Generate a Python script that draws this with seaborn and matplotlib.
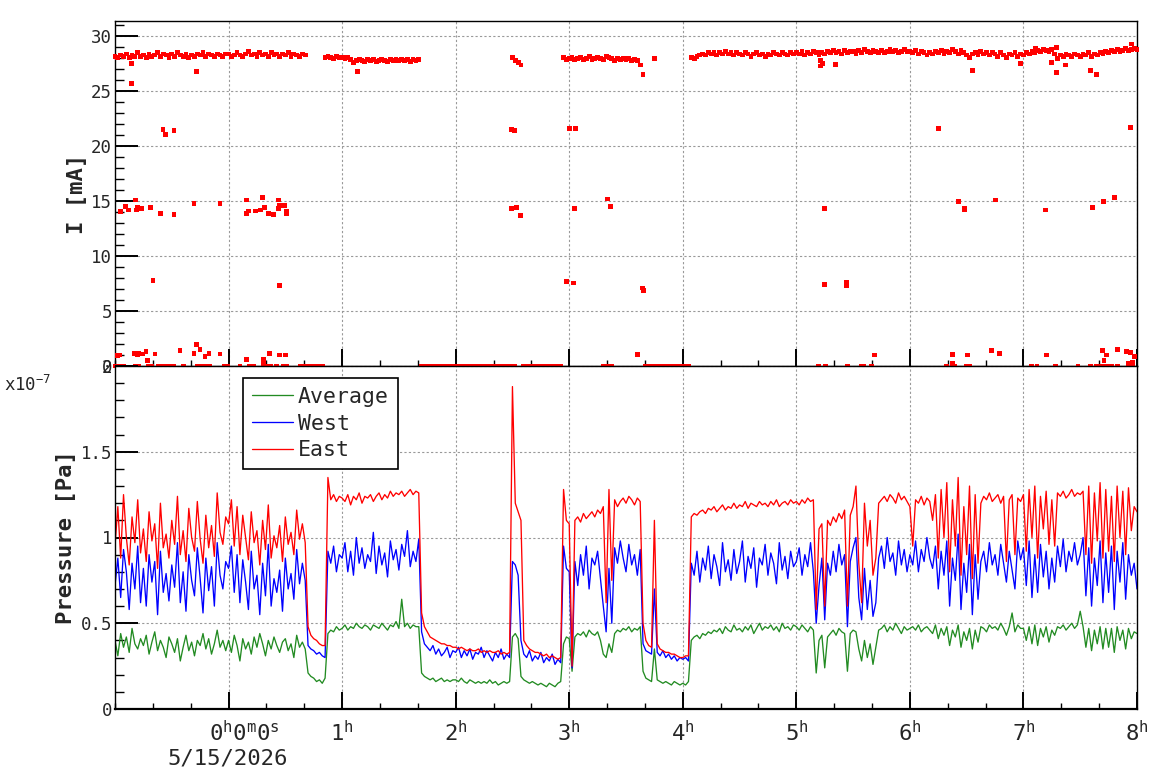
import numpy as np
import pandas as pd
import matplotlib
matplotlib.use('Agg')
import matplotlib.pyplot as plt
from matplotlib.ticker import MultipleLocator, FixedLocator, FuncFormatter
from matplotlib.transforms import ScaledTranslation
import seaborn as sns

# -----------------------------
# Time axis: hours relative to 5/15/2026 00:00, one reading every 1.5 min
# -----------------------------
hours = np.linspace(-1, 8, 361)

# -----------------------------
# Vacuum pressure, units of 1e-9 Pa (one row = 15 min)
# -----------------------------
east = [
    95, 118, 88, 125, 100, 84, 112, 97, 122, 91,
    105, 86, 115, 98, 108, 82, 120, 94, 102, 88,
    110, 96, 124, 90, 104, 86, 117, 100, 92, 121,
    99, 85, 113, 94, 107, 89, 126, 103, 96, 112,
    108, 122, 95, 118, 90, 113, 100, 87, 115, 97,
    104, 84, 110, 93, 119, 88, 101, 94, 107, 86,
    112, 96, 103, 90, 116, 99, 108, 97, 48, 43,
    41, 40, 38, 37, 37, 135, 122, 125, 121, 124,
    123, 121, 125, 119, 124, 122, 126, 120, 124, 123,
    125, 121, 124, 126, 122, 125, 123, 127, 124, 126,
    125, 127, 124, 126, 128, 125, 127, 126, 56, 48,
    45, 42, 41, 40, 39, 38, 38, 37, 37, 36,
    36, 35, 36, 35, 34, 35, 34, 34, 35, 33,
    34, 33, 34, 33, 33, 34, 32, 33, 32, 33,
    188, 120, 115, 110, 40, 37, 35, 34, 33, 33,
    32, 31, 32, 30, 31, 30, 29, 30, 128, 110,
    108, 25, 110, 112, 109, 114, 111, 113, 115, 112,
    116, 114, 118, 62, 128, 75, 122, 118, 121, 123,
    120, 124, 122, 119, 123, 121, 50, 40, 37, 36,
    110, 38, 35, 34, 33, 33, 32, 32, 31, 30,
    30, 31, 31, 112, 114, 113, 115, 116, 114, 117,
    116, 118, 115, 117, 119, 116, 118, 117, 120, 117,
    119, 118, 121, 117, 120, 119, 118, 121, 119, 120,
    118, 121, 119, 122, 118, 120, 121, 119, 122, 120,
    121, 119, 122, 120, 123, 121, 122, 58, 105, 108,
    60, 110, 107, 112, 109, 114, 111, 116, 60, 113,
    118, 130, 85, 62, 120, 95, 110, 78, 88, 120,
    122, 124, 121, 125, 123, 120, 126, 122, 124, 121,
    118, 95, 122, 120, 124, 119, 123, 121, 110, 125,
    88, 128, 100, 132, 80, 122, 95, 135, 78, 118,
    90, 130, 76, 125, 85, 120, 124, 122, 126, 121,
    123, 125, 120, 124, 86, 122, 125, 90, 123, 121,
    125, 92, 128, 100, 130, 88, 124, 105, 127, 96,
    122, 95, 126, 124, 127, 123, 125, 128, 124, 126,
    125, 127, 90, 130, 85, 126, 98, 132, 88, 128,
    92, 124, 86, 130, 100, 127, 90, 129, 104, 118,
    115,
]

west = [
    72, 88, 65, 93, 80, 58, 85, 70, 95, 62,
    82, 60, 90, 74, 86, 55, 92, 68, 79, 63,
    84, 71, 97, 62, 80, 57, 90, 75, 66, 94,
    76, 56, 88, 69, 83, 60, 97, 78, 70, 86,
    82, 95, 68, 90, 62, 87, 74, 58, 92, 70,
    78, 55, 85, 66, 96, 60, 76, 68, 81, 57,
    88, 70, 79, 64, 93, 73, 85, 75, 37, 35,
    34, 32, 33, 31, 30, 92, 85, 95, 80, 90,
    88, 97, 80, 92, 78, 100, 85, 94, 82, 90,
    86, 103, 79, 95, 84, 91, 77, 98, 87, 93,
    81, 96, 89, 104, 83, 92, 86, 99, 45, 38,
    36, 34, 37, 32, 35, 31, 33, 36, 30, 34,
    33, 36, 30, 34, 31, 35, 29, 33, 32, 36,
    30, 34, 31, 28, 33, 30, 35, 29, 32, 30,
    86, 84, 78, 40, 32, 30, 34, 28, 31, 29,
    33, 27, 30, 28, 32, 26, 29, 27, 95, 82,
    80, 24, 86, 72, 90, 78, 95, 70, 88, 84,
    92, 76, 60, 45, 82, 50, 94, 85, 98, 88,
    80, 96, 84, 90, 78, 93, 38, 34, 33, 32,
    70, 33, 31, 34, 30, 32, 29, 31, 28, 30,
    29, 30, 28, 85, 78, 92, 74, 88, 81, 95,
    76, 90, 83, 72, 97, 80, 87, 75, 93, 79,
    86, 98, 74, 89, 82, 94, 71, 88, 84, 96,
    78, 91, 85, 73, 97, 81, 89, 76, 92, 83,
    86, 94, 78, 90, 83, 97, 80, 50, 72, 88,
    52, 85, 78, 92, 80, 96, 84, 90, 48, 86,
    94, 100, 65, 52, 82, 58, 75, 54, 62, 88,
    95, 82, 100, 86, 91, 78, 98, 84, 93, 80,
    90, 84, 98, 80, 93, 86, 100, 88, 82, 95,
    70, 92, 78, 98, 60, 88, 75, 102, 58, 85,
    68, 96, 55, 90, 64, 86, 92, 80, 97, 84,
    90, 78, 96, 85, 74, 92, 81, 70, 98, 87,
    94, 72, 98, 65, 90, 68, 96, 77, 92, 70,
    88, 74, 95, 83, 99, 80, 92, 86, 97, 84,
    90, 100, 66, 94, 60, 88, 72, 98, 62, 91,
    68, 95, 58, 92, 74, 97, 64, 90, 78, 85,
    70,
]

average = [
    40, 31, 44, 36, 42, 33, 47, 38, 35, 41,
    37, 43, 32, 39, 45, 34, 40, 36, 30, 42,
    38, 33, 41, 28, 36, 43, 34, 39, 31, 40,
    37, 44, 35, 41, 32, 38, 46, 36, 40, 34,
    40, 33, 43, 37, 28, 41, 35, 39, 32, 42,
    36, 44, 38, 31, 40, 35, 42, 37, 33, 39,
    41, 34, 38, 30, 43, 36, 39, 35, 21, 19,
    18, 16, 17, 15, 18, 44, 46, 45, 48, 46,
    47, 49, 46, 48, 47, 50, 48, 47, 49, 48,
    46, 49, 48, 47, 50, 48, 46, 49, 48, 51,
    47, 64, 48, 50, 47, 49, 48, 48, 21, 19,
    18, 17, 18, 16, 17, 18, 16, 17, 16, 17,
    17, 16, 18, 16, 15, 17, 16, 15, 16, 15,
    16, 15, 17, 15, 16, 14, 15, 16, 15, 16,
    42, 44, 41, 19, 17, 16, 15, 16, 15, 14,
    15, 14, 13, 15, 14, 13, 15, 16, 38, 42,
    41, 22, 42, 44, 43, 45, 42, 46, 44, 43,
    45, 40, 32, 30, 38, 33, 44, 46, 45, 47,
    46, 48, 45, 47, 46, 48, 22, 18, 17, 16,
    35, 17, 16, 15, 16, 15, 14, 16, 15, 14,
    15, 14, 16, 40, 42, 43, 41, 44, 43, 45,
    44, 46, 45, 47, 44, 48, 46, 45, 49, 46,
    47, 45, 48, 46, 49, 44, 47, 50, 46, 48,
    47, 49, 46, 48, 45, 50, 47, 48, 46, 49,
    48, 46, 49, 47, 45, 48, 46, 21, 40, 43,
    24, 42, 44, 46, 43, 47, 45, 44, 22, 44,
    46, 45, 35, 28, 40, 30, 38, 26, 36, 46,
    47, 49, 45, 48, 46, 50, 47, 44, 48, 46,
    47, 48, 46, 49, 45, 47, 48, 46, 44, 49,
    41, 47, 43, 48, 37, 46, 42, 49, 36, 45,
    40, 47, 35, 46, 39, 48, 47, 45, 49, 47,
    48, 46, 50, 47, 43, 48, 56, 45, 49, 47,
    47, 40, 48, 38, 49, 37, 47, 42, 48, 39,
    46, 43, 48, 47, 49, 46, 48, 50, 47, 49,
    57, 48, 36, 47, 34, 46, 38, 48, 35, 47,
    36, 47, 33, 48, 40, 46, 35, 47, 41, 45,
    44,
]

# -----------------------------
# Beam current [mA] on the same time grid
# -----------------------------
beam = [
    28.2, 28.1, 28.3, 28.2, 28.4, 28.1, 28.3, 28.2, 28.5, 28.2,
    28.3, 28.1, 28.4, 28.2, 28.3, 28.5, 28.2, 28.4, 28.3, 28.1,
    28.4, 28.2, 28.5, 28.3, 28.2, 28.4, 28.1, 28.3, 28.2, 28.4,
    28.3, 28.5, 28.2, 28.4, 28.3, 28.2, 28.4, 28.3, 28.2, 28.4,
    28.4, 28.2, 28.3, 28.5, 28.3, 28.2, 28.4, 28.6, 28.3, 28.4,
    28.2, 28.5, 28.3, 28.4, 28.2, 28.5, 28.3, 28.4, 28.2, 28.4,
    28.3, 28.5, 28.2, 28.4, 28.3, 28.2, 28.4, 28.3, 0, 0,
    0, 0, 0, 0, 28.1, 28.2, 28.1, 28.0, 28.2, 28.1,
    28.1, 28.0, 28.1, 27.9, 27.6, 27.8, 27.9, 27.8, 27.7, 27.9,
    27.8, 27.9, 27.7, 27.8, 27.9, 27.8, 27.7, 27.9, 27.8, 27.9,
    27.8, 27.9, 27.8, 27.9, 27.7, 27.9, 27.8, 27.9, 0, 0,
    0, 0, 0, 0, 0, 0, 0, 0, 0, 0,
    0, 0, 0, 0, 0, 0, 0, 0, 0, 0,
    0, 0, 0, 0, 0, 0, 0, 0, 0, 0,
    28.1, 27.8, 27.6, 27.4, 0, 0, 0, 0, 0, 0,
    0, 0, 0, 0, 0, 0, 0, 0, 28.1, 27.9,
    28.0, 28.1, 27.9, 28.0, 28.1, 27.9, 28.0, 28.2, 27.9, 28.0,
    28.1, 28.0, 27.9, 28.2, 28.1, 28.0, 27.8, 28.0, 27.9, 28.0,
    27.9, 28.0, 27.8, 27.9, 27.8, 27.4, 26.5, 0, 0, 0,
    28.0, 0, 0, 0, 0, 0, 0, 0, 0, 0,
    0, 0, 0, 28.1, 28.0, 28.2, 28.3, 28.4, 28.3, 28.5,
    28.4, 28.5, 28.3, 28.5, 28.4, 28.6, 28.4, 28.5, 28.3, 28.5,
    28.4, 28.3, 28.5, 28.4, 28.2, 28.4, 28.5, 28.3, 28.4, 28.2,
    28.4, 28.3, 28.5, 28.4, 28.3, 28.5, 28.4, 28.3, 28.5, 28.4,
    28.5, 28.4, 28.6, 28.3, 28.5, 28.4, 28.6, 28.5, 28.3, 28.5,
    28.4, 28.6, 28.5, 28.7, 28.5, 28.6, 28.4, 28.7, 28.5, 28.6,
    28.6, 28.4, 28.7, 28.5, 28.8, 28.6, 28.5, 28.7, 28.6, 28.5,
    28.7, 28.5, 28.6, 28.8, 28.6, 28.7, 28.5, 28.6, 28.8, 28.6,
    28.6, 28.5, 28.7, 28.4, 28.6, 28.5, 28.3, 28.5, 28.4, 28.6,
    28.5, 28.7, 28.4, 28.6, 28.5, 28.8, 28.6, 28.4, 28.7, 28.5,
    28.3, 28.1, 28.4, 28.5, 28.3, 28.6, 28.4, 28.5, 28.3, 28.5,
    28.4, 28.2, 28.5, 28.3, 28.1, 28.4, 28.3, 28.5, 28.2, 28.4,
    28.3, 28.5, 28.4, 28.6, 28.5, 28.7, 28.6, 28.8, 28.7, 28.6,
    28.8, 28.4, 28.0, 28.3, 28.2, 28.4, 28.3, 28.2, 28.4, 28.3,
    28.2, 28.4, 28.3, 28.5, 28.2, 28.4, 28.3, 28.5, 28.4, 28.6,
    28.5, 28.7, 28.6, 28.8, 28.6, 28.7, 28.9, 28.7, 28.8, 28.9,
    28.8,
]

# stray current readings (glitches)
glitch_t = [
    -0.857, -0.857, -0.284, -0.578, -0.552, -0.481,
    -0.95, -0.909, -0.878, -0.816, -0.813, -0.80, -0.78, -0.77, -0.684, -0.596,
    -0.481, -0.305, -0.076, 0.156, 0.156, 0.179, 0.235, 0.279, 0.302, 0.314,
    0.349, 0.399, 0.443, 0.44, 0.45, 0.496, 0.513, 0.513,
    -0.666, 0.452,
    -0.98, -0.96, -0.833, -0.80, -0.79, -0.76, -0.727, -0.716, -0.648, -0.428,
    -0.305, -0.279, -0.252, -0.208, -0.173, -0.076, 0.156, 0.31, 0.31, 0.364,
    0.446, 0.505,
    1.133,
    2.494, 2.52, 3.005, 3.057, 2.494, 2.538, 2.573, 3.048, 3.339, 3.366,
    2.978, 3.04, 3.647, 3.656, 3.603,
    5.214, 5.214, 5.232, 5.346, 6.552, 6.972, 7.247, 7.291, 7.37, 7.59,
    7.643, 7.952, 7.107, 7.29,
    6.253, 7.943,
    5.249, 6.429, 6.48, 6.48, 6.755, 7.195, 7.608, 7.705, 7.802,
    5.249, 5.443, 5.443,
    5.689, 6.376, 6.376, 6.508, 6.719, 6.79, 7.203, 7.696, 7.71, 7.73,
    7.828, 7.908, 7.943, 7.925, 7.96, 7.978,
]
glitch_i = [
    27.5, 25.7, 26.8, 21.5, 21.1, 21.4,
    14.05, 14.5, 14.2, 15.1, 14.2, 14.4, 14.3, 14.3, 14.4, 13.9,
    13.8, 14.8, 14.8, 15.1, 13.9, 14.1, 14.1, 14.2, 15.3, 14.4,
    13.9, 13.8, 15.1, 14.3, 14.6, 14.6, 14.1, 13.9,
    7.8, 7.35,
    0.97, 1.0, 1.15, 1.0, 1.15, 1.1, 1.3, 0.5, 1.1, 1.4,
    1.15, 1.95, 1.5, 0.85, 1.15, 1.1, 0.6, 0.6, 0.25, 1.15,
    1.0, 1.0,
    26.8,
    21.5, 21.45, 21.6, 21.6, 14.3, 14.45, 13.7, 14.3, 15.2, 14.55,
    7.7, 7.55, 7.1, 6.9, 1.05,
    27.8, 27.3, 27.55, 27.45, 26.9, 27.55, 27.65, 26.7, 27.4, 26.9,
    26.5, 29.3, 28.9, 29.0,
    21.65, 21.7,
    14.35, 15.0, 14.3, 14.2, 15.1, 14.2, 14.45, 15.0, 15.3,
    7.45, 7.65, 7.35,
    1.0, 1.05, 0.25, 1.0, 1.4, 1.15, 1.0, 1.4, 0.5, 1.0,
    1.5, 1.3, 1.2, 0.25, 0.3, 0.85,
]

# readings where the current read exactly zero
zero_t = [
    -1.0, -0.98, -0.95, -0.92, -0.82, -0.79, -0.71, -0.68, -0.62, -0.58,
    -0.55, -0.51, -0.48, -0.40, -0.27, -0.24, -0.20, -0.17, -0.04, -0.01,
    0.10, 0.18, 0.22, 0.31, 0.34, 0.37, 0.42, 0.48, 0.51, 0.63, 0.66,
    2.52, 3.30, 3.325, 3.35, 3.375, 3.75,
    5.19, 5.20, 5.26, 5.45, 5.57, 5.59, 5.66, 6.32, 6.39, 6.50, 6.53,
    7.07, 7.12, 7.28, 7.48, 7.59, 7.64, 7.67, 7.71, 7.74, 7.78, 7.83, 7.96,
]

gauges = ['Average', 'West', 'East']
gauge_colors = {'Average': '#228b22', 'West': '#0000ff', 'East': '#ff0000'}
hour_ticks = [0, 1, 2, 3, 4, 5, 6, 7, 8]
hour_labels = [r'$\mathregular{0^h0^m0^s}$'] + [r'$\mathregular{%d^h}$' % h for h in hour_ticks[1:]]
date_label = '5/15/2026'

assert len(east) == len(west) == len(average) == len(beam) == len(hours)

# -----------------------------
# Tables for seaborn
# -----------------------------
press_df = pd.DataFrame({
    'hours': np.tile(hours, 3),
    'pressure': np.concatenate([average, west, east]) / 100.0,
    'gauge': np.repeat(gauges, len(hours)),
})
cur_df = pd.DataFrame({
    'hours': np.concatenate([hours, glitch_t, zero_t]),
    'current': np.concatenate([beam, glitch_i, np.zeros(len(zero_t))]),
})

# -----------------------------
# Style
# -----------------------------
sns.set_theme(style='white')
plt.rcParams['font.family'] = ['DejaVu Sans Mono', 'DejaVu Sans']
plt.rcParams['mathtext.fontset'] = 'custom'
plt.rcParams['mathtext.rm'] = 'DejaVu Sans Mono'

fig = plt.figure(figsize=(11.58, 7.82), dpi=100)
W, H = 1158.0, 782.0
ax1 = fig.add_axes([115 / W, 1 - 366 / H, 1022 / W, 345 / H])
ax2 = fig.add_axes([115 / W, 1 - 709 / H, 1022 / W, 343 / H])

# top: beam current
sns.scatterplot(data=cur_df, x='hours', y='current', marker='s', s=12,
                color='#ff0000', edgecolor='none', linewidth=0, ax=ax1,
                clip_on=False, zorder=3)
# bottom: pressure
sns.lineplot(data=press_df, x='hours', y='pressure', hue='gauge',
             hue_order=gauges, palette=gauge_colors, estimator=None,
             linewidth=0.95, legend=False, ax=ax2)

for ax in (ax1, ax2):
    ax.set_xlim(-1, 8)
    ax.xaxis.set_major_locator(FixedLocator(hour_ticks))
    ax.xaxis.set_minor_locator(MultipleLocator(1 / 3))
    ax.grid(True, which='major', linestyle=(0, (2, 2)), color='#999999', linewidth=0.8)
    ax.set_axisbelow(True)
    ax.tick_params(axis='y', which='major', direction='in', length=16.5, width=1.4,
                   color='black', left=True, right=False, labelsize=12.5, pad=2)
    ax.tick_params(axis='y', which='minor', direction='in', length=6.5, width=1.0,
                   color='black', left=True, right=False)
    ax.tick_params(axis='x', which='major', direction='in', length=12, width=1.4,
                   color='black', bottom=True, top=False)
    ax.tick_params(axis='x', which='minor', direction='in', length=4.5, width=1.0,
                   color='black', bottom=True, top=False)
    for sp in ax.spines.values():
        sp.set_color('black')
        sp.set_linewidth(1.0)
    ax.set_xlabel('')

ax1.set_ylim(0, 31.4)
ax1.yaxis.set_major_locator(MultipleLocator(5))
ax1.yaxis.set_minor_locator(MultipleLocator(1))
ax1.tick_params(axis='x', labelbottom=False)
ax1.set_ylabel('I [mA]', fontsize=16, fontweight='bold')
ax1.yaxis.set_label_coords(-0.027, 0.5)

ax2.set_ylim(0, 2.0)
ax2.yaxis.set_major_locator(MultipleLocator(0.5))
ax2.yaxis.set_minor_locator(MultipleLocator(0.1))
ax2.yaxis.set_major_formatter(FuncFormatter(lambda v, p: '%g' % v))
ax2.set_xticks(hour_ticks)
ax2.set_xticklabels(hour_labels, fontsize=16)
ax2.tick_params(axis='x', pad=8)
ax2.set_ylabel('Pressure [Pa]', fontsize=16, fontweight='bold')
ax2.yaxis.set_label_coords(-0.038, 0.5)
ax2.spines['bottom'].set_linewidth(1.6)

# ROOT-style time label offset for the origin
lab0 = ax2.get_xticklabels()[0]
lab0.set_transform(lab0.get_transform() + ScaledTranslation(0.16, 0, fig.dpi_scale_trans))
fig.text(228 / W, 1 - 749 / H, date_label, fontsize=16, ha='center', va='top')
fig.text(4 / W, 1 - 391 / H, r'$\mathregular{x10^{-7}}$', fontsize=12.5, ha='left', va='baseline')

leg = ax2.legend(ax2.lines[:3], gauges, loc='upper left',
                 bbox_to_anchor=(243 / W, 1 - 378 / H), bbox_transform=fig.transFigure,
                 borderaxespad=0, fontsize=15.5, handlelength=1.9, handletextpad=0.25,
                 borderpad=0.4, labelspacing=0.32, fancybox=False, framealpha=1,
                 edgecolor='black')
leg.get_frame().set_linewidth(1.2)

fig.savefig('out.png', dpi=100)
